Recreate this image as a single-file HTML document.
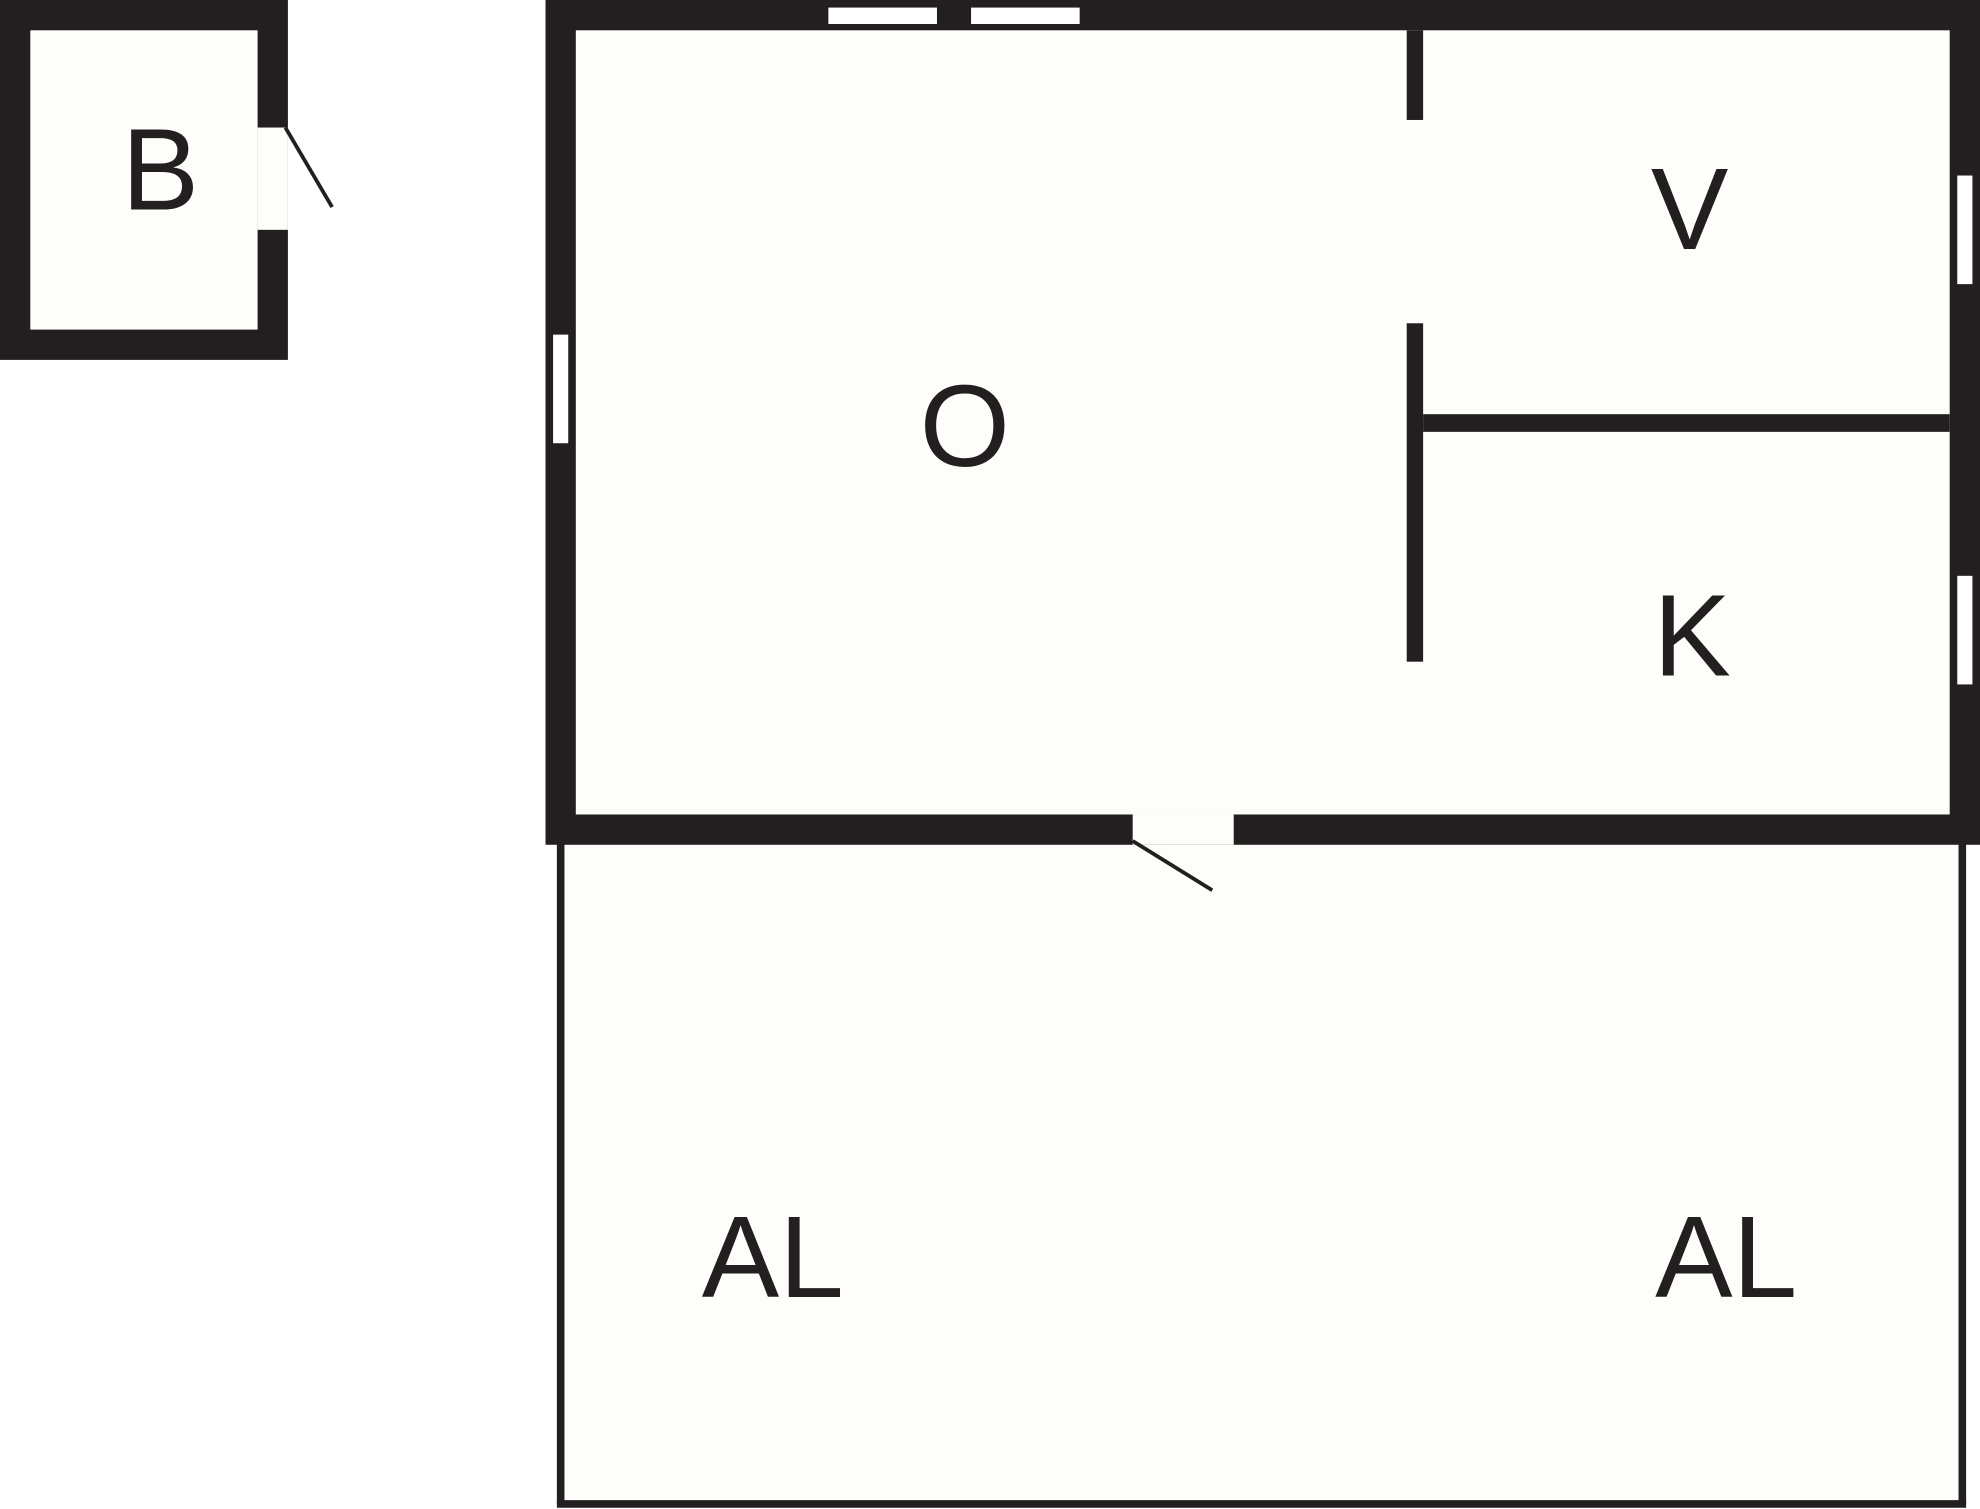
<!DOCTYPE html>
<html><head><meta charset="utf-8"><style>
html,body{margin:0;padding:0;background:#fff;}
svg{display:block;}
text{font-family:"Liberation Sans",sans-serif;font-size:92px;fill:#231f20;text-anchor:middle;}
</style></head><body>
<svg width="1980" height="1509" viewBox="0 0 1568 1195" xmlns="http://www.w3.org/2000/svg">
<rect width="1568" height="1195" fill="#fff"/>
<!-- AL balcony -->
<rect x="444" y="666" width="1110" height="525" fill="#fdfef9"/>
<line x1="444" y1="666" x2="444" y2="1191" stroke="#231f20" stroke-width="6"/>
<line x1="1554" y1="666" x2="1554" y2="1191" stroke="#231f20" stroke-width="6"/>
<line x1="441" y1="1191" x2="1557" y2="1191" stroke="#231f20" stroke-width="6"/>
<!-- B -->
<rect x="0" y="0" width="228" height="285" fill="#231f20"/>
<rect x="24" y="24" width="180" height="237" fill="#fdfef9"/>
<rect x="204" y="101" width="24" height="81" fill="#fdfef9"/>
<line x1="226" y1="101" x2="263" y2="164" stroke="#231f20" stroke-width="3"/>
<!-- Main -->
<rect x="432" y="0" width="1136" height="669" fill="#231f20"/>
<rect x="456" y="24" width="1088" height="621" fill="#fdfef9"/>
<!-- windows -->
<rect x="656" y="6" width="86" height="13" fill="#fff"/>
<rect x="769" y="6" width="86" height="13" fill="#fff"/>
<rect x="438" y="265" width="12" height="86" fill="#fff"/>
<rect x="1550" y="139" width="12" height="86" fill="#fff"/>
<rect x="1550" y="456" width="12" height="86" fill="#fff"/>
<!-- interior walls -->
<rect x="1114" y="24" width="13" height="71" fill="#231f20"/>
<rect x="1114" y="256" width="13" height="268" fill="#231f20"/>
<rect x="1127" y="328" width="417" height="14" fill="#231f20"/>
<!-- bottom door -->
<rect x="897" y="645" width="80" height="24" fill="#fdfef9"/>
<line x1="897" y1="666" x2="960" y2="705" stroke="#231f20" stroke-width="3"/>
<!-- labels -->
<text x="127" y="166">B</text>
<text x="764" y="369">O</text>
<text x="1338" y="197">V</text>
<text x="1340" y="535">K</text>
<text x="612" y="1027">AL</text>
<text x="1367" y="1027">AL</text>
</svg>
</body></html>
